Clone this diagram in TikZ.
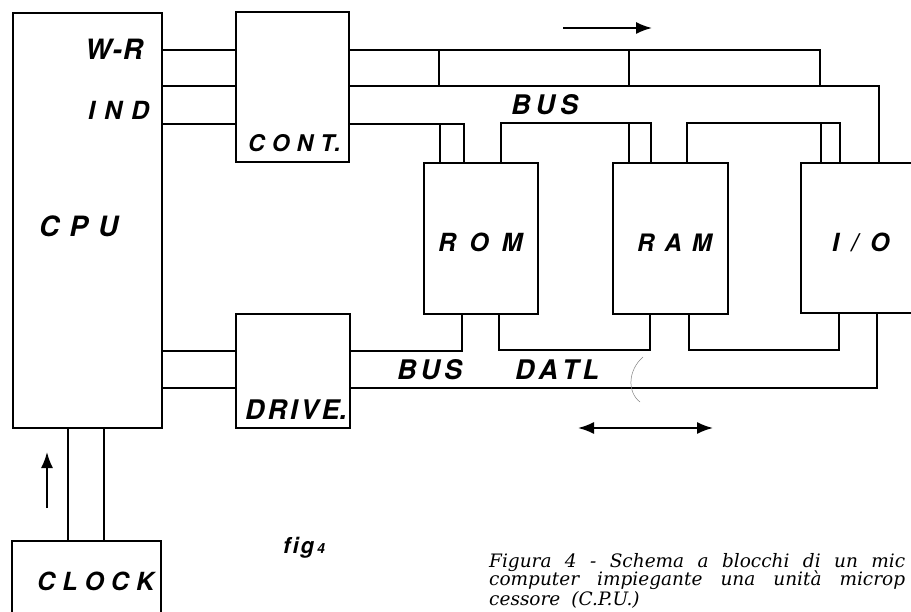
\documentclass[tikz,border=0pt]{standalone}
\usepackage{fontspec}
\setmainfont{TeX Gyre Heros}
\newfontfamily\capfont{DejaVu Serif}
\usetikzlibrary{arrows.meta}
\newcommand\lgap[1]{\kern#1pt\relax}
\newcommand\lbl[2]{\fontsize{#1}{#1}\selectfont\bfseries\itshape #2}
\newcommand\capset{\capfont\itshape\fontsize{18.5}{18.5}\selectfont}
\begin{document}
\begin{tikzpicture}[x=1pt,y=-1pt,
  box/.style={draw, line width=1.8pt, rectangle, inner sep=0pt, anchor=north west},
  wire/.style={line width=1.5pt, line join=miter},
  lab/.style={inner sep=0pt, anchor=base west},
  arr/.style={line width=1.8pt, -{Latex[length=16pt,width=12pt]}}]
\useasboundingbox (0,0) rectangle (911,612);
\clip (0,0) rectangle (911,612);
% boxes
\node[box, minimum width=149pt, minimum height=415pt] (cpu) at (12,12) {};
\node[box, minimum width=113pt, minimum height=150pt] (cont) at (235,11) {};
\node[box, minimum width=114pt, minimum height=114pt] (drive) at (235,313) {};
\node[box, minimum width=114pt, minimum height=151pt] (rom) at (423,162) {};
\node[box, minimum width=115pt, minimum height=151pt] (ram) at (612,162) {};
\node[box, minimum width=140pt, minimum height=150pt] (io) at (800,162) {};
\node[box, minimum width=149pt, minimum height=100pt] (clock) at (11,540) {};
% levels
\coordinate (a1) at (0,50);
\coordinate (a2) at (0,86);
\coordinate (a3) at (0,124);
\coordinate (d1) at (0,351);
\coordinate (d2) at (0,388);
% CPU to CONT / DRIVE
\draw[wire] (cpu.east |- a1) -- (cont.west |- a1);
\draw[wire] (cpu.east |- a2) -- (cont.west |- a2);
\draw[wire] (cpu.east |- a3) -- (cont.west |- a3);
\draw[wire] (cpu.east |- d1) -- (drive.west |- d1);
\draw[wire] (cpu.east |- d2) -- (drive.west |- d2);
% top bus
\coordinate (j1) at (439,50);
\coordinate (j2) at (629,50);
\coordinate (j3) at (820,50);
\draw[wire] (cont.east |- j1) -- (j3) -- (j3 |- a2);
\draw[wire] (j1) -- (j1 |- a2);
\draw[wire] (j2) -- (j2 |- a2);
\coordinate (k1) at (879,86);
\draw[wire] (cont.east |- a2) -- (k1) -- (k1 |- io.north);
% connections to module tops
\coordinate (r1) at (440,124);
\coordinate (r2) at (464,124);
\coordinate (r3) at (501,123);
\draw[wire] (cont.east |- a3) -- (r2) -- (r2 |- rom.north);
\draw[wire] (r1) -- (r1 |- rom.north);
\coordinate (m1) at (629,123);
\coordinate (m2) at (651,123);
\draw[wire] (r3 |- rom.north) -- (r3) -- (m2) -- (m2 |- ram.north);
\draw[wire] (m1) -- (m1 |- ram.north);
\coordinate (m3) at (687,123);
\coordinate (i1) at (821,123);
\coordinate (i2) at (840,123);
\draw[wire] (m3 |- ram.north) -- (m3) -- (i2) -- (i2 |- io.north);
\draw[wire] (i1) -- (i1 |- io.north);
% bottom data bus
\coordinate (b1) at (462,351);
\draw[wire] (drive.east |- d1) -- (b1) -- (b1 |- rom.south);
\coordinate (b2) at (499,350);
\coordinate (b3) at (650,350);
\draw[wire] (b2 |- rom.south) -- (b2) -- (b3) -- (b3 |- ram.south);
\coordinate (b4) at (689,350);
\coordinate (b5) at (839,350);
\draw[wire] (b4 |- ram.south) -- (b4) -- (b5) -- (b5 |- io.south);
\coordinate (b6) at (877,388);
\draw[wire] (drive.east |- d2) -- (b6) -- (b6 |- io.south);
% CPU - CLOCK
\coordinate (c1) at (68,0);
\coordinate (c2) at (104,0);
\draw[wire] (cpu.south -| c1) -- (clock.north -| c1);
\draw[wire] (cpu.south -| c2) -- (clock.north -| c2);
% arrows
\coordinate (ua) at (47,508);
\coordinate (ub) at (47,452);
\draw[arr] (ua) -- (ub);
\coordinate (ta) at (563,28);
\coordinate (tb) at (652,28);
\draw[arr] (ta) -- (tb);
\coordinate (ba) at (578,428);
\coordinate (bb) at (713,428);
\draw[line width=1.8pt, {Latex[length=16pt,width=12pt]}-{Latex[length=16pt,width=12pt]}] (ba) -- (bb);
% faint arc
\draw[line width=0.5pt, gray] (643,357) .. controls (628,370) and (627,392) .. (640,402);
% labels
\node[lab] (tWR) at (85,60) {\lbl{28}{W\lgap{1}-\lgap{1}R}};
\node[lab] (tIND) at (88,120) {\lbl{25}{I\lgap{9}N\lgap{9}D}};
\node[lab] (tCONT) at (248,152) {\lbl{23}{C\lgap{7}O\lgap{7}N\lgap{7}T\lgap{0}.}};
\node[lab] (tCPU) at (39,237) {\lbl{28}{C\lgap{10}P\lgap{10}U}};
\node[lab] (tROM) at (438,252) {\lbl{25}{R\lgap{13}O\lgap{13}M}};
\node[lab] (tRAM) at (637,252) {\lbl{24}{R\lgap{10}A\lgap{10}M}};
\node[lab] (tIO) at (832,252) {\lbl{25}{I\lgap{12}/\lgap{12}O}};
\node[lab] (tBUS1) at (511,115) {\lbl{27}{B\lgap{5}U\lgap{5}S}};
\node[lab] (tBUS2) at (397,380) {\lbl{27}{B\lgap{4}U\lgap{4}S}};
\node[lab] (tDATL) at (515,380) {\lbl{27}{D\lgap{4}A\lgap{4}T\lgap{4}L}};
\node[lab] (tDRIVE) at (245,420) {\lbl{27}{D\lgap{3}R\lgap{3}I\lgap{3}V\lgap{3}E\lgap{0}.}};
\node[lab] (tCLOCK) at (37,590) {\lbl{25}{C\lgap{7}L\lgap{7}O\lgap{7}C\lgap{7}K}};
\node[lab] (tfig) at (283,553) {\lbl{22}{f\lgap{2}i\lgap{2}g}\lgap{3}\lbl{14}{4}};
% caption
\node[lab] (cap1) at (489,567) {\capset\makebox[416pt][s]{Figura 4 - Schema a blocchi di un mic}};
\node[lab] (cap2) at (489,585) {\capset\makebox[416pt][s]{computer impiegante una unità microp}};
\node[lab] (cap3) at (489,605) {\capset\spaceskip=11pt\relax cessore (C.P.U.)};
\end{tikzpicture}
\end{document}
